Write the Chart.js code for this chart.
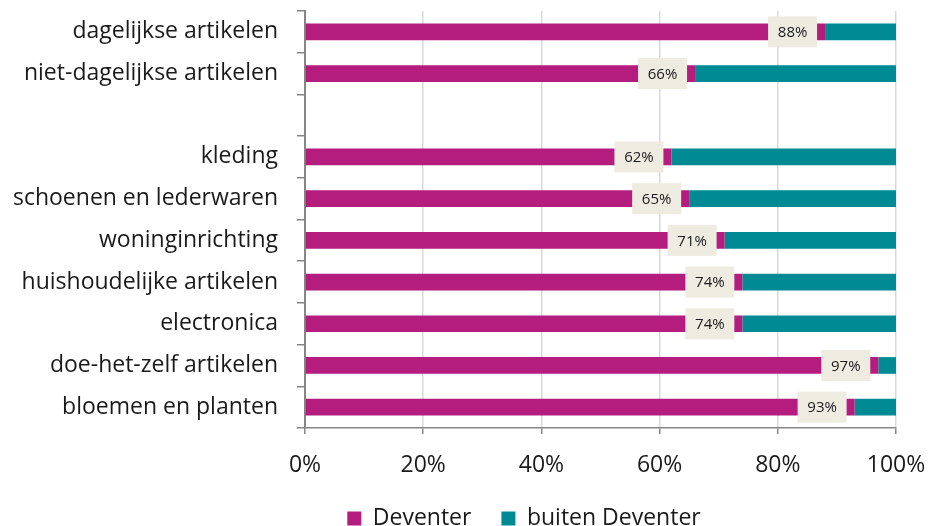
<!DOCTYPE html>
<html>
<head>
<meta charset="utf-8">
<script src="https://cdn.jsdelivr.net/npm/chart.js@4/dist/chart.umd.min.js"></script>
<style>
  html, body { margin: 0; padding: 0; background: #fff; }
  #wrap { width: 929px; height: 526px; }
</style>
</head>
<body>
<div id="wrap"><canvas id="chart" width="929" height="526"></canvas></div>
<script>
const categories = [
  'dagelijkse artikelen',
  'niet-dagelijkse artikelen',
  '',
  'kleding',
  'schoenen en lederwaren',
  'woninginrichting',
  'huishoudelijke artikelen',
  'electronica',
  'doe-het-zelf artikelen',
  'bloemen en planten'
];
const deventer = [88, 66, null, 62, 65, 71, 74, 74, 97, 93];
const buiten = [12, 34, null, 38, 35, 29, 26, 26, 3, 7];
const xTicks = ['0%', '20%', '40%', '60%', '80%', '100%'];

const FONT = '"Open Sans", sans-serif';

// labels in a beige box at the inner end of the Deventer bar
const boxLabels = {
  id: 'boxLabels',
  afterDatasetsDraw(chart) {
    const ctx = chart.ctx;
    const meta = chart.getDatasetMeta(0);
    ctx.save();
    ctx.font = '15px ' + FONT;
    ctx.textAlign = 'center';
    ctx.textBaseline = 'middle';
    meta.data.forEach((bar, i) => {
      const v = deventer[i];
      if (v == null) return;
      const w = 49, h = 31;
      const right = bar.x - 8;
      ctx.fillStyle = '#EEECE1';
      ctx.fillRect(right - w, bar.y - h / 2, w, h);
      ctx.fillStyle = '#1a1a1a';
      ctx.fillText(v + '%', right - w / 2, bar.y + 1);
    });
    ctx.restore();
  }
};

// legend sits a bit right of centre in the original
const shiftLegend = {
  id: 'shiftLegend',
  afterLayout(chart) {
    chart.legend.left += 76;
    chart.legend.right += 76;
  }
};

new Chart(document.getElementById('chart'), {
  type: 'bar',
  data: {
    labels: categories,
    datasets: [
      { label: 'Deventer', data: deventer, backgroundColor: '#B41C7E', barPercentage: 0.4, categoryPercentage: 1 },
      { label: 'buiten Deventer', data: buiten, backgroundColor: '#008A94', barPercentage: 0.4, categoryPercentage: 1 }
    ]
  },
  options: {
    indexAxis: 'y',
    responsive: false,
    animation: false,
    layout: { padding: { top: 11, right: 33, left: 0, bottom: -14 } },
    scales: {
      x: {
        stacked: true,
        min: 0,
        max: 100,
        afterFit(scale) {
          scale.height = 49;
          scale.paddingLeft = 0;
          scale.paddingRight = 0;
        },
        ticks: {
          stepSize: 20,
          callback: (v, i) => xTicks[i],
          font: { family: FONT, size: 23 },
          color: '#1a1a1a',
          padding: 18
        },
        grid: { color: '#D9D9D9', lineWidth: 1.5, tickColor: '#868686', tickLength: 6 },
        border: { color: '#868686', width: 1.5 }
      },
      y: {
        stacked: true,
        afterFit(scale) {
          scale.width = 305;
          scale.paddingTop = 0;
          scale.paddingBottom = 0;
        },
        ticks: {
          font: { family: FONT, size: 23 },
          color: '#1a1a1a',
          padding: 19
        },
        grid: { display: true, drawOnChartArea: false, offset: true, color: '#868686', tickLength: 8, lineWidth: 1.5 },
        border: { color: '#868686', width: 2 }
      }
    },
    plugins: {
      legend: {
        position: 'bottom',
        labels: {
          boxWidth: 14,
          boxHeight: 14,
          padding: 30,
          font: { family: FONT, size: 23 },
          color: '#1a1a1a'
        }
      },
      tooltip: { enabled: false }
    }
  },
  plugins: [boxLabels, shiftLegend]
});
</script>
</body>
</html>
